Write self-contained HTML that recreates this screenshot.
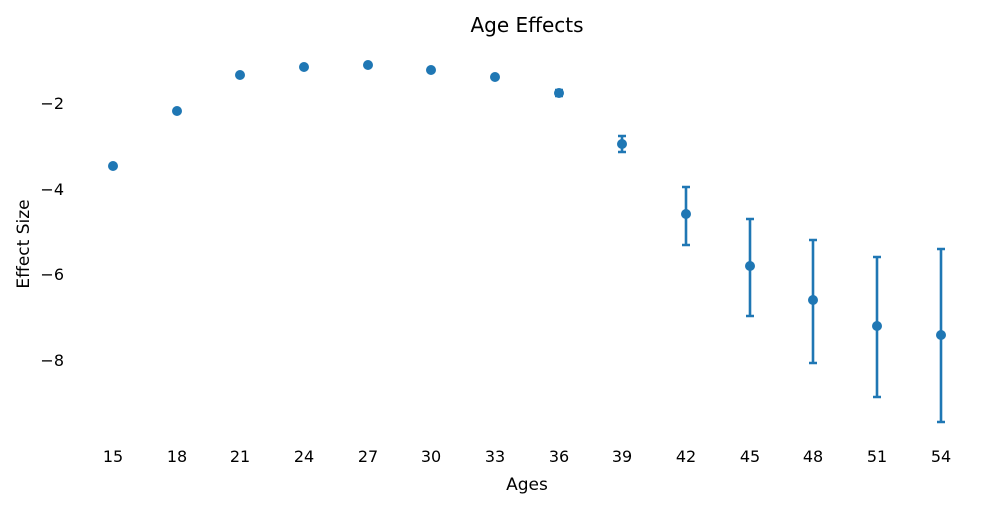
<!DOCTYPE html>
<html><head><meta charset="utf-8"><style>
html,body{margin:0;padding:0;background:#fff;}
svg{display:block;font-family:"DejaVu Sans","Liberation Sans",sans-serif;}
</style></head><body>
<svg width="996" height="509" viewBox="0 0 996 509" xmlns="http://www.w3.org/2000/svg">
<rect width="996" height="509" fill="#fff"/>
<text x="527" y="32" font-size="20" text-anchor="middle" fill="#000">Age Effects</text>
<g font-size="16" fill="#000" text-anchor="end">
<text x="64" y="109">−2</text>
<text x="64" y="195">−4</text>
<text x="64" y="280">−6</text>
<text x="64" y="366">−8</text>
</g>
<text transform="translate(29,244) rotate(-90)" font-size="17" text-anchor="middle">Effect Size</text>
<g font-size="16" fill="#000" text-anchor="middle">
<text x="113" y="462">15</text><text x="177" y="462">18</text><text x="240" y="462">21</text>
<text x="304" y="462">24</text><text x="368" y="462">27</text><text x="431" y="462">30</text>
<text x="495" y="462">33</text><text x="559" y="462">36</text><text x="622" y="462">39</text>
<text x="686" y="462">42</text><text x="750" y="462">45</text><text x="813" y="462">48</text>
<text x="877" y="462">51</text><text x="941" y="462">54</text>
</g>
<text x="527" y="490" font-size="17" text-anchor="middle">Ages</text>
<g stroke="#1f77b4" stroke-width="2.6" fill="none">
<path d="M559 90V96M555 90H563M555 96H563"/>
<path d="M622 136V152M618 136H626M618 152H626"/>
<path d="M686 187V245M682 187H690M682 245H690"/>
<path d="M750 219V316M746 219H754M746 316H754"/>
<path d="M813 240V363M809 240H817M809 363H817"/>
<path d="M877 257V397M873 257H881M873 397H881"/>
<path d="M941 249V422M937 249H945M937 422H945"/>
</g>
<g fill="#1f77b4">
<circle cx="113" cy="166" r="5"/><circle cx="177" cy="111" r="5"/><circle cx="240" cy="75" r="5"/>
<circle cx="304" cy="67" r="5"/><circle cx="368" cy="65" r="5"/><circle cx="431" cy="70" r="5"/>
<circle cx="495" cy="77" r="5"/><circle cx="559" cy="93" r="5"/><circle cx="622" cy="144" r="5"/>
<circle cx="686" cy="214" r="5"/><circle cx="750" cy="266" r="5"/><circle cx="813" cy="300" r="5"/>
<circle cx="877" cy="326" r="5"/><circle cx="941" cy="335" r="5"/>
</g>
</svg>
</body></html>
